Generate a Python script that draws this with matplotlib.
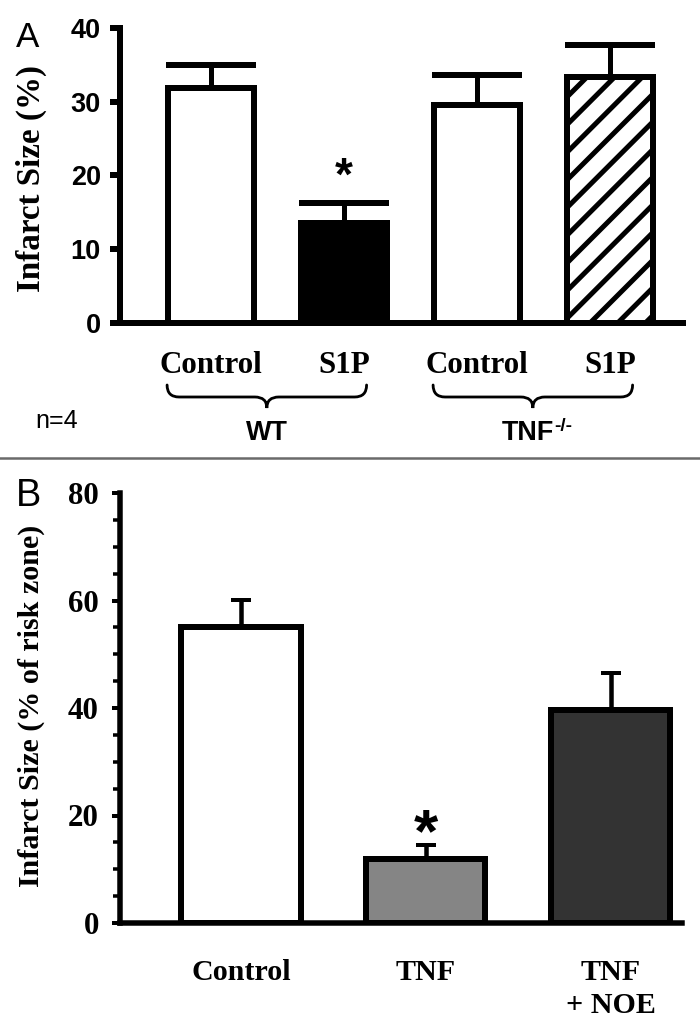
import numpy as np
import matplotlib
matplotlib.use('Agg')
from matplotlib import pyplot as plt
from matplotlib.path import Path
from matplotlib.patches import PathPatch
from matplotlib.lines import Line2D
import matplotlib.transforms as mtransforms

# ---- data ----
a_labels = ['Control', 'S1P', 'Control', 'S1P']
a_groups = ['WT', 'TNF']
a_group_sup = ['', '-/-']
a_mean = [31.9, 13.5, 29.6, 33.4]
a_err = [3.1, 2.8, 4.0, 4.3]
a_sig = [False, True, False, False]
a_yticks = [0, 10, 20, 30, 40]

b_labels = ['Control', 'TNF', 'TNF\n+ NOE']
b_mean = [55.0, 11.9, 39.7]
b_err = [5.1, 2.6, 6.9]
b_sig = [False, True, False]
b_yticks = [0, 20, 40, 60, 80]

# ---- styles ----
a_colors = ['white', 'black', 'white', 'white']
a_hatch = [None, None, None, '//']
b_colors = ['white', '#858585', '#333333']

DPI = 166
W, H = 700, 1027


def px(v):
    # pixels -> points
    return v * 72.0 / DPI


def fx(x):
    return x / W


def fy(y):
    return 1 - y / H


SERIF = 'Liberation Serif'
SANS = 'Liberation Sans'

plt.rcParams['hatch.linewidth'] = px(5)

fig = plt.figure(figsize=(W / DPI, H / DPI), dpi=DPI)


def style_axis(ax, lw):
    for s in ['top', 'right']:
        ax.spines[s].set_visible(False)
    for s in ['left', 'bottom']:
        ax.spines[s].set_linewidth(lw)
    ax.set_xticks([])


def brace(ax, x0, x1, y_end, y_mid, y_tip, r=12):
    # curly brace in display pixels, x given in data units
    X0 = ax.transData.transform((x0, 0))[0]
    X1 = ax.transData.transform((x1, 0))[0]
    XM = (X0 + X1) / 2
    ye, ym, yt = H - y_end, H - y_mid, H - y_tip
    verts = [(X0, ye), (X0, ym), (X0 + r, ym),
             (XM - r, ym), (XM, ym), (XM, yt),
             (XM, ym), (XM + r, ym),
             (X1 - r, ym), (X1, ym), (X1, ye)]
    codes = [Path.MOVETO, Path.CURVE3, Path.CURVE3,
             Path.LINETO, Path.CURVE3, Path.CURVE3,
             Path.CURVE3, Path.CURVE3,
             Path.LINETO, Path.CURVE3, Path.CURVE3]
    p = PathPatch(Path(verts, codes), transform=mtransforms.IdentityTransform(),
                  fill=False, lw=px(2.8), edgecolor='black', capstyle='round')
    fig.add_artist(p)
    return XM


# ================= Panel A =================
axA = fig.add_axes([fx(120), fy(323), (683 - 120) / W, (323 - 28) / H])
xa = np.arange(len(a_mean))
bars = axA.bar(xa, a_mean, width=0.645, color=a_colors, edgecolor='black',
               linewidth=px(6), zorder=3)
for b, h in zip(bars, a_hatch):
    if h:
        b.set_hatch(h)
axA.errorbar(xa, a_mean, yerr=[np.zeros(len(a_err)), a_err], fmt='none',
             ecolor='black', elinewidth=px(5), capsize=px(45), capthick=px(6),
             zorder=2)
axA.set_xlim(-0.684, 3.549)
axA.set_ylim(0, 40)
style_axis(axA, px(6))
axA.set_yticks(a_yticks)
axA.tick_params(axis='y', direction='out', length=px(10), width=px(6),
                pad=px(9), labelsize=px(27))
for t in axA.get_yticklabels():
    t.set_fontfamily(SANS)
    t.set_fontweight('bold')

for i, s in enumerate(a_sig):
    if s:
        axA.annotate('*', (xa[i], a_mean[i] + a_err[i]), xytext=(0, px(13)),
                     textcoords='offset points', ha='center', va='baseline',
                     fontsize=px(46), fontweight='bold', family=SANS)

trA = mtransforms.blended_transform_factory(axA.transData, fig.transFigure)
for i, lab in enumerate(a_labels):
    axA.text(xa[i], fy(373), lab, transform=trA, ha='center', va='baseline',
             family=SERIF, fontweight='bold', fontsize=px(31))

for g, name in enumerate(a_groups):
    xm = brace(axA, xa[2 * g] - 0.33, xa[2 * g + 1] + 0.17, 385, 397, 408)
    sup = a_group_sup[g]
    shift = 5 if sup else 0
    t = fig.text((xm - shift) / W, fy(440), name, ha='center', va='baseline',
                 family=SANS, fontweight='bold', fontsize=px(27))
    if sup:
        axA.annotate(sup, xy=(1, 0), xycoords=t, xytext=(px(0.5), px(15)),
                     textcoords='offset points', ha='left', va='baseline',
                     family=SANS, fontweight='bold', fontsize=px(19),
                     annotation_clip=False)

fig.text(fx(35), fy(428), 'n=4', ha='left', va='baseline', family=SANS,
         fontsize=px(25))
fig.text(fx(16), fy(47), 'A', ha='left', va='baseline', family=SANS,
         fontsize=px(35))
fig.text(fx(31), fy(178), 'Infarct Size (%)', rotation=90, ha='center',
         va='center', family=SERIF, fontweight='bold', fontsize=px(33))

# separator
fig.add_artist(Line2D([0, 1], [fy(458), fy(458)], transform=fig.transFigure,
                      color='#6a6a6a', lw=px(2.5)))

# ================= Panel B =================
axB = fig.add_axes([fx(120), fy(923), (682 - 120) / W, (923 - 493) / H])
xb = np.arange(len(b_mean))
axB.bar(xb, b_mean, width=0.645, color=b_colors, edgecolor='black',
        linewidth=px(6), zorder=3)
axB.errorbar(xb, b_mean, yerr=[np.zeros(len(b_err)), b_err], fmt='none',
             ecolor='black', elinewidth=px(4.5), capsize=px(10), capthick=px(4),
             zorder=2)
axB.set_xlim(-0.655, 2.387)
axB.set_ylim(0, 80)
style_axis(axB, px(5.5))
axB.set_yticks(b_yticks)
axB.set_yticks(np.arange(0, 81, 5), minor=True)
axB.tick_params(axis='y', which='major', direction='out', length=px(8),
                width=px(4), pad=px(13), labelsize=px(31))
axB.tick_params(axis='y', which='minor', direction='out', length=px(7),
                width=px(3.5))
for t in axB.get_yticklabels():
    t.set_fontfamily(SERIF)
    t.set_fontweight('bold')

for i, s in enumerate(b_sig):
    if s:
        axB.annotate('*', (xb[i], b_mean[i] + b_err[i]), xytext=(0, px(-6)),
                     textcoords='offset points', ha='center', va='baseline',
                     fontsize=px(62), fontweight='bold', family=SANS)

trB = mtransforms.blended_transform_factory(axB.transData, fig.transFigure)
for i, lab in enumerate(b_labels):
    for k, line in enumerate(lab.split('\n')):
        axB.text(xb[i], fy(980 + 33 * k), line, transform=trB, ha='center',
                 va='baseline', family=SERIF, fontweight='bold',
                 fontsize=px(30))

fig.text(fx(16), fy(506), 'B', ha='left', va='baseline', family=SANS,
         fontsize=px(38))
fig.text(fx(31), fy(706), 'Infarct Size (% of risk zone)', rotation=90,
         ha='center', va='center', family=SERIF, fontweight='bold',
         fontsize=px(30))

fig.savefig('out.png', dpi=DPI)
